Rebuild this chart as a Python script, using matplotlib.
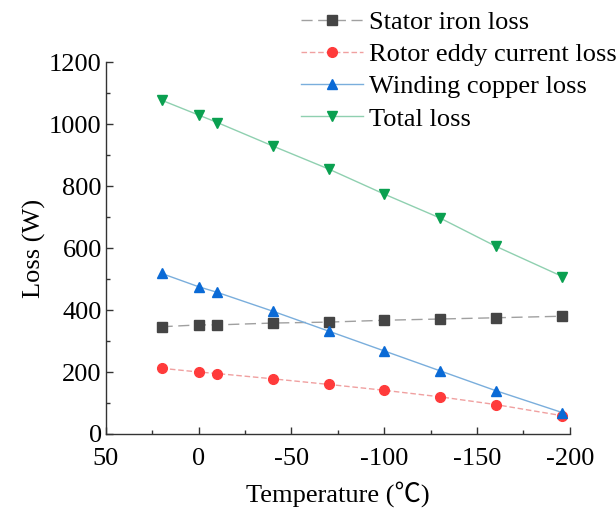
import matplotlib
matplotlib.use('Agg')
import matplotlib.pyplot as plt
from matplotlib.ticker import MultipleLocator

plt.rcParams.update({
    'font.family': 'Liberation Serif',
    'font.size': 19,
    'axes.unicode_minus': False,
})

temperature = [20, 0, -10, -40, -70, -100, -130, -160, -196]
stator_iron = [346, 352, 352, 358, 361, 367, 371, 375, 380]
rotor_eddy = [212, 200, 195, 178, 160, 141, 120, 95, 59]
winding_copper = [518, 475, 457, 396, 332, 268, 204, 140, 69]
total_loss = [1077, 1029, 1005, 929, 855, 774, 697, 606, 508]

labels = ['Stator iron loss', 'Rotor eddy current loss',
          'Winding copper loss', 'Total loss']

fig = plt.figure(figsize=(6.16, 5.13), dpi=100)
ax = fig.add_axes([0.172, 0.154, 0.753, 0.725])

ax.plot(temperature, stator_iron, color='#a0a0a0', lw=1.0, dashes=(8, 4),
        marker='s', ms=6.5, mfc='#454545', mec='#454545', label=labels[0])
ax.plot(temperature, rotor_eddy, color='#f0a0a0', lw=1.0, dashes=(4, 2),
        marker='o', ms=7, mfc='#ff3b3b', mec='#ff3b3b', label=labels[1])
ax.plot(temperature, winding_copper, color='#7aaedc', lw=1.0,
        marker='^', ms=7.5, mfc='#0a6ad6', mec='#0a6ad6', label=labels[2])
ax.plot(temperature, total_loss, color='#8fd0b0', lw=1.0,
        marker='v', ms=7.5, mfc='#0aa050', mec='#0aa050', label=labels[3])

ax.set_xlim(50, -200)
ax.set_ylim(0, 1200)
ax.xaxis.set_major_locator(MultipleLocator(50))
ax.xaxis.set_minor_locator(MultipleLocator(25))
ax.yaxis.set_major_locator(MultipleLocator(200))
ax.yaxis.set_minor_locator(MultipleLocator(100))

for s in ['top', 'right']:
    ax.spines[s].set_visible(False)
for s in ['left', 'bottom']:
    ax.spines[s].set_color('#333333')
    ax.spines[s].set_linewidth(1.0)

ax.tick_params(which='both', direction='in', color='#333333', width=1.0)
ax.tick_params(which='major', length=5, labelsize=19)
ax.tick_params(which='minor', length=3)
ax.tick_params(axis='x', which='major', pad=10)
ax.tick_params(axis='y', which='major', pad=3)

ax.set_xlabel('Temperature (\u2103)', fontsize=19, labelpad=8,
              family=['Liberation Serif', 'Noto Sans CJK SC', 'DejaVu Sans'])
ax.set_ylabel('Loss (W)', fontsize=19, labelpad=2)

ax.legend(loc='upper left', bbox_to_anchor=(0.472, 1.0),
          bbox_transform=fig.transFigure, frameon=False, fontsize=19,
          handlelength=2.35, handletextpad=0.2, labelspacing=0.33,
          borderaxespad=0)

fig.savefig('out.png', dpi=100)
